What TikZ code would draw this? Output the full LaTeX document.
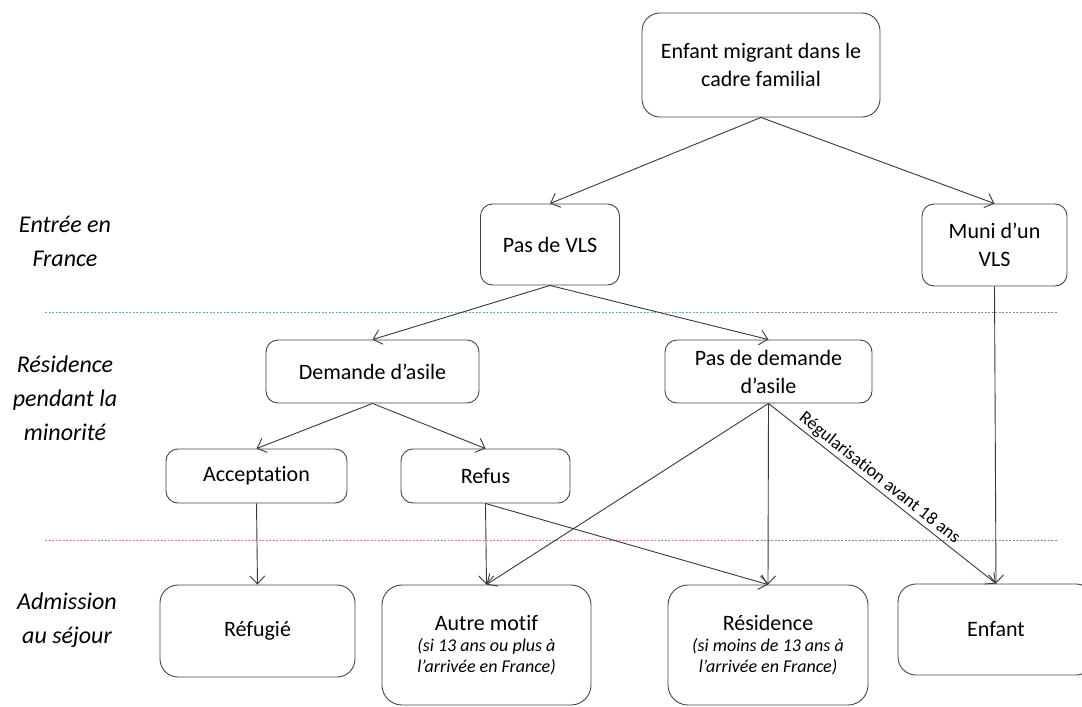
\documentclass[tikz,border=0pt]{standalone}
\usepackage{fontspec}
\setmainfont{Carlito}[Ligatures=NoCommon]
\usetikzlibrary{arrows.meta}
\definecolor{ln}{HTML}{383838}
\definecolor{bd}{HTML}{444444}
\definecolor{sepblue}{HTML}{6FA8C8}
\definecolor{sepred}{HTML}{C98A78}
\definecolor{sepgray}{HTML}{8C8C8C}
\newcommand{\smit}[1]{{\fontsize{18}{21}\selectfont\itshape #1}}
\begin{document}
\begin{tikzpicture}[x=1pt,y=1pt,
  box/.style={draw=bd, line width=0.9pt, rounded corners=12pt, align=center, inner sep=0pt, text=black, font=\fontsize{22}{28}\selectfont},
  arr/.style={draw=ln, line width=0.9pt, -{Straight Barb[length=8pt,width=15pt]}},
  side/.style={align=center, text=black, font=\fontsize{24}{34}\selectfont\itshape},
  sep/.style={line width=0.7pt, dash pattern=on 2pt off 1.5pt}]
\clip (0,0) rectangle (1082,-707);
\fill[white] (0,0) rectangle (1082,-707);

% separators
\draw[sep, draw=sepblue] (45,-312) -- (757,-312);
\draw[sep, draw=sepgray] (757,-312) -- (1058,-312);
\draw[sep, draw=sepred] (45,-540) -- (757,-540);
\draw[sep, draw=sepgray] (757,-540) -- (1058,-540);

% side labels
\node[side] (l1) at (65,-241) {Entrée en\\France};
\node[side] (l2) at (65,-398) {Résidence\\pendant la\\minorité};
\node[side] (l3) at (67,-620) {Admission\\au séjour};

% boxes
\node[box, rounded corners=18pt, minimum width=238pt, minimum height=104pt] (top) at (761,-65) {Enfant migrant dans le\\cadre familial};
\node[box, minimum width=139pt, minimum height=81pt] (pasvls) at (550,-244.5) {Pas de VLS};
\node[box, minimum width=145pt, minimum height=82pt] (muni) at (994.5,-245) {Muni d’un\\VLS};
\node[box, minimum width=213pt, minimum height=63pt] (demande) at (372.5,-371.5) {Demande d’asile};
\node[box, minimum width=207pt, minimum height=63pt] (pasdem) at (768.5,-371.5) {Pas de demande\\d’asile};
\node[box, minimum width=181pt, minimum height=54pt] (accept) at (256.5,-476) {Acceptation};
\node[box, minimum width=169pt, minimum height=54pt] (refus) at (485.5,-476) {Refus};
\node[box, rounded corners=18pt, minimum width=195pt, minimum height=92pt] (refugie) at (257.5,-631) {Réfugié};
\node[box, rounded corners=20pt, minimum width=209pt, minimum height=120pt] (autre) at (486.5,-645) {Autre motif\\[-7pt]\smit{(si 13 ans ou plus à}\\[-7pt]\smit{l’arrivée en France)}};
\node[box, rounded corners=20pt, minimum width=200pt, minimum height=120pt] (resid) at (768,-645) {Résidence\\[-7pt]\smit{(si moins de 13 ans à}\\[-7pt]\smit{l’arrivée en France)}};
\node[box, rounded corners=18pt, minimum width=196pt, minimum height=91pt] (enfant) at (996,-629.5) {Enfant};

% connectors
\draw[arr] (top.south) -- (pasvls.north);
\draw[arr] (top.south) -- (muni.north);
\draw[arr] (pasvls.south) -- (demande.north);
\draw[arr] (pasvls.south) -- (pasdem.north);
\draw[arr] (muni.south) -- (enfant.north);
\draw[arr] (demande.south) -- (accept.north);
\draw[arr] (demande.south) -- (refus.north);
\draw[arr] (pasdem.south) -- (autre.north);
\draw[arr] (pasdem.south) -- (resid.north);
\draw[arr] (pasdem.south) -- node[pos=0.46, above, sloped, inner sep=2pt, text=black, font=\fontsize{18}{21}\selectfont] {Régularisation avant 18 ans} (enfant.north);
\draw[arr] (accept.south) -- (refugie.north);
\draw[arr] (refus.south) -- (autre.north);
\draw[arr] (refus.south) -- (resid.north);
\end{tikzpicture}
\end{document}
